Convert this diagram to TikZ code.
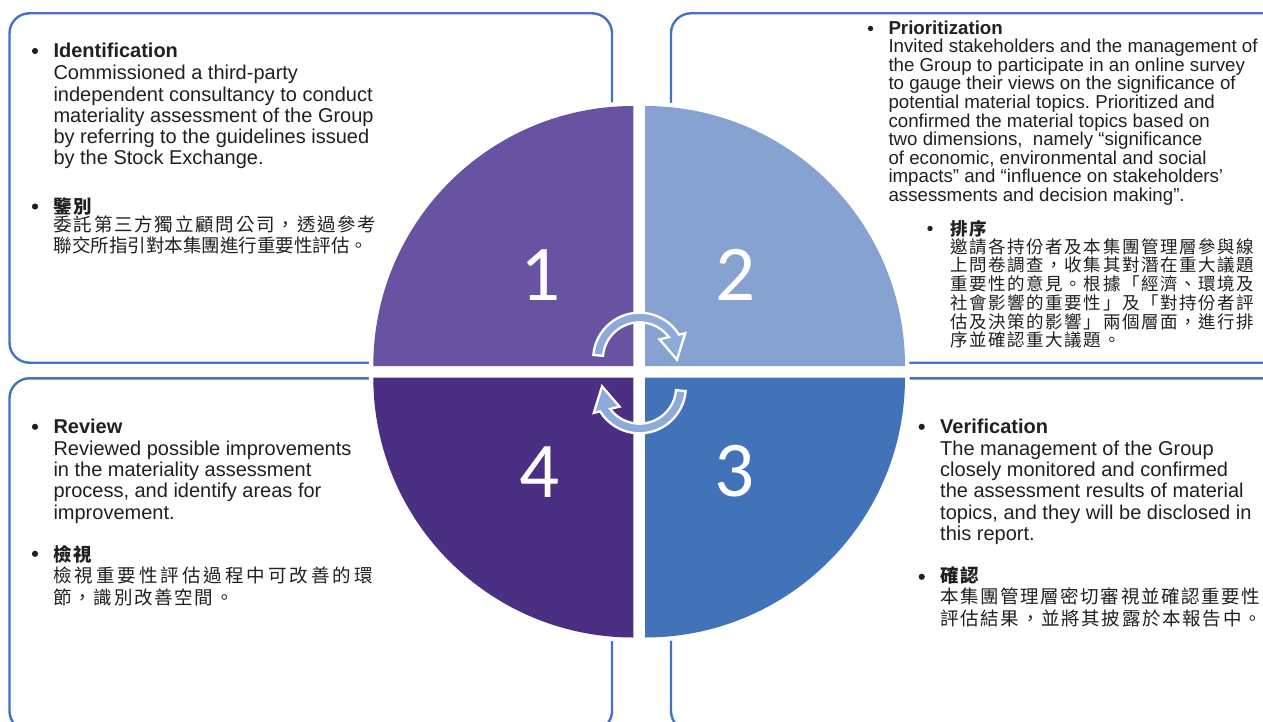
\documentclass[tikz,border=0pt]{standalone}
\usepackage{fontspec}
\setmainfont{Liberation Sans}
\newfontfamily\cjk{Noto Sans CJK TC}
\newfontfamily\digitfont{Carlito}
\definecolor{boxline}{HTML}{4472C4}
\definecolor{qa}{HTML}{6753A2}
\definecolor{qb}{HTML}{85A2D1}
\definecolor{qc}{HTML}{4273B9}
\definecolor{qd}{HTML}{4B2F82}
\definecolor{arrowfill}{HTML}{8EAADB}
\definecolor{txtcol}{HTML}{231F20}
\makeatletter
\newcommand\spreadtext[2]{\@tfor\spr@ch:=#2\do{\spr@ch\hskip#1\relax}}
\makeatother
\newcommand\bodyfont{\fontsize{20}{21.2}\selectfont}
\newcommand\smallbody{\fontsize{18.7}{18.6}\selectfont}
\frenchspacing
\begin{document}
\begin{tikzpicture}[x=1pt,y=-1pt,
  panel/.style={draw=boxline, line width=2.4pt, rounded corners=20pt},
  halo/.style={fill=white, draw=white, line width=9pt, line join=round},
  cyc/.style={fill=arrowfill, draw=white, line width=2.3pt, line join=miter},
  digit/.style={anchor=base, inner sep=0pt, text=white, font=\digitfont\fontsize{79}{79}\selectfont},
  txt/.style={anchor=base west, inner sep=0pt, text=txtcol},
  dot/.style={circle, fill=txtcol, inner sep=0pt, minimum size=6.2pt},
  sdot/.style={circle, fill=txtcol, inner sep=0pt, minimum size=5.4pt}]
\useasboundingbox (0,0) rectangle (1263,722);
\clip (0,0) rectangle (1263,722);
\fill[white] (0,0) rectangle (1263,722);
% panels
\draw[panel] (9.5,13.3) rectangle (612,362.7);
\draw[panel] (671,13.3) rectangle (1285,362.7);
\draw[panel] (9.5,378.3) rectangle (612,731);
\draw[panel] (671,378.3) rectangle (1285,731);
% quadrants
\foreach \cx/\cy/\sa in {633.3/366/180, 645/366/270, 645/377.5/0, 633.3/377.5/90}{
  \path[halo] (\cx,\cy) -- ++(\sa:260) arc[start angle=\sa, delta angle=90, radius=260] -- cycle;
}
\foreach \col/\cx/\cy/\sa in {qa/633.3/366/180, qb/645/366/270, qc/645/377.5/0, qd/633.3/377.5/90}{
  \fill[\col] (\cx,\cy) -- ++(\sa:260) arc[start angle=\sa, delta angle=90, radius=260] -- cycle;
}
\node[digit] (n1) at (541,300.7) {1};
\node[digit] (n2) at (736,300.7) {2};
\node[digit] (n3) at (735,496.5) {3};
\node[digit] (n4) at (540,497) {4};
% cycle arrows
\begin{scope}[shift={(639.5,359)}, yscale=-1]
  \draw[cyc] (175:46.35) arc[start angle=175, end angle=31.7, radius=46.35] -- (29.5:52.5) -- (-1:37.5) -- (44.5:28) -- (36.7:36.65) arc[start angle=36.7, end angle=175, radius=36.65] -- cycle;
\end{scope}
\begin{scope}[shift={(639.5,387)}, yscale=-1, rotate=180]
  \draw[cyc] (175:46.35) arc[start angle=175, end angle=31.7, radius=46.35] -- (29.5:52.5) -- (-1:37.5) -- (44.5:28) -- (36.7:36.65) arc[start angle=36.7, end angle=175, radius=36.65] -- cycle;
\end{scope}
% top-left text
\node[dot] (tlb1) at (35,51) {};
\node[txt] (tlh1) at (53.3,57.3) {\bodyfont\bfseries Identification};
\node[txt] (tlt1) at (53.3,80) {\parbox[t]{400pt}{\bodyfont Commissioned a third-party\\independent consultancy to conduct\\materiality assessment of the Group\\by referring to the guidelines issued\\by the Stock Exchange.}};
\node[dot] (tlb2) at (35,206.5) {};
\node[txt] (tlh2) at (53.3,213.3) {\cjk\fontsize{18.5}{21}\selectfont\bfseries\spreadtext{1.2pt}{鑒別}};
\node[txt] (tlt2) at (53.3,231.3) {\parbox[t]{400pt}{\cjk\fontsize{18.5}{21.6}\selectfont\spreadtext{1.8pt}{委託第三方獨立顧問公司，透過參考}\\\spreadtext{0pt}{聯交所指引對本集團進行重要性評估。}}};
% top-right text
\node[sdot] (trb1) at (870.5,28.5) {};
\node[txt] (trh1) at (888.3,34.7) {\smallbody\bfseries Prioritization};
\node[txt] (trt1) at (888.3,52.7) {\parbox[t]{400pt}{\smallbody Invited stakeholders and the management of\\the Group to participate in an online survey\\to gauge their views on the significance of\\potential material topics. Prioritized and\\confirmed the material topics based on\\two dimensions,\ \ namely “significance\\of economic, environmental and social\\impacts” and “influence on stakeholders’\\assessments and decision making”.}};
\node[sdot] (trb2) at (930,228.5) {};
\node[txt] (trh2) at (950,235.5) {\cjk\fontsize{17.5}{18.7}\selectfont\bfseries\spreadtext{1.6pt}{排序}};
\node[txt] (trt2) at (950,253.2) {\parbox[t]{400pt}{\cjk\fontsize{17.5}{18.7}\selectfont\spreadtext{1.6pt}{邀請各持份者及本集團管理層參與線}\\\spreadtext{1.6pt}{上問卷調查，收集其對潛在重大議題}\\\spreadtext{1.6pt}{重要性的意見。根據「經濟、環境及}\\\spreadtext{1.6pt}{社會影響的重要性」及「對持份者評}\\\spreadtext{1.6pt}{估及決策的影響」兩個層面，進行排}\\\spreadtext{1.6pt}{序並確認重大議題。}}};
% bottom-left text
\node[dot] (blb1) at (35,426.8) {};
\node[txt] (blh1) at (53.3,433.3) {\bodyfont\bfseries Review};
\node[txt] (blt1) at (53.3,455) {\parbox[t]{400pt}{\fontsize{20}{21.4}\selectfont Reviewed possible improvements\\in the materiality assessment\\process, and identify areas for\\improvement.}};
\node[dot] (blb2) at (35,553.8) {};
\node[txt] (blh2) at (53.3,561) {\cjk\fontsize{18.5}{21}\selectfont\bfseries\spreadtext{1.5pt}{檢視}};
\node[txt] (blt2) at (53.3,582.8) {\parbox[t]{400pt}{\cjk\fontsize{18.5}{21.7}\selectfont\spreadtext{3.0pt}{檢視重要性評估過程中可改善的環}\\\spreadtext{1.7pt}{節，識別改善空間。}}};
% bottom-right text
\node[dot] (brb1) at (921.7,426.8) {};
\node[txt] (brh1) at (940,433.3) {\bodyfont\bfseries Verification};
\node[txt] (brt1) at (940,455.7) {\parbox[t]{400pt}{\fontsize{20}{21.1}\selectfont The management of the Group\\closely monitored and confirmed\\the assessment results of material\\topics, and they will be disclosed in\\this report.}};
\node[dot] (brb2) at (921.7,576.8) {};
\node[txt] (brh2) at (940,582.5) {\cjk\fontsize{18.5}{21}\selectfont\bfseries\spreadtext{1.5pt}{確認}};
\node[txt] (brt2) at (940,603.7) {\parbox[t]{400pt}{\cjk\fontsize{18.5}{21.6}\selectfont\spreadtext{1.6pt}{本集團管理層密切審視並確認重要性}\\\spreadtext{1.7pt}{評估結果，並將其披露於本報告中。}}};
\end{tikzpicture}
\end{document}
